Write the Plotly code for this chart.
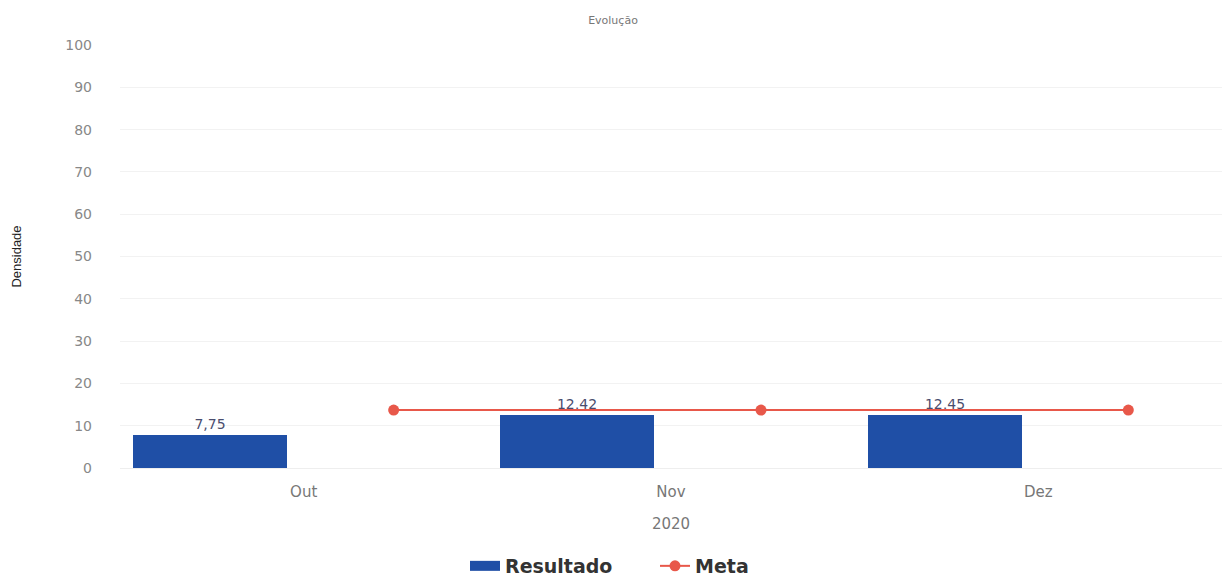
import plotly.graph_objects as go

categories = ["Out", "Nov", "Dez"]
resultado = [7.75, 12.42, 12.45]
meta = [13.7, 13.7, 13.7]
y_ticks = [0, 10, 20, 30, 40, 50, 60, 70, 80, 90, 100]

idx = list(range(len(categories)))
bar_x = [i - 0.255 for i in idx]
meta_x = [i + 0.245 for i in idx]

BAR_COLOR = "#1f4fa6"
META_COLOR = "#e8584a"

fig = go.Figure()
fig.add_trace(go.Bar(
    x=bar_x, y=resultado, name="Resultado", width=0.42, showlegend=False,
    legendgroup="res",
    marker=dict(color=BAR_COLOR, line=dict(width=0)),
    text=[f"{v:.2f}".replace(".", ",") for v in resultado],
    textposition="outside", cliponaxis=False,
    textfont=dict(family="DejaVu Sans", size=14, color="#4a4d6e"),
))
# legend entry for the bars (wide rectangle swatch)
fig.add_trace(go.Scatter(
    x=[None], y=[None], name="Resultado", mode="lines", legendgroup="res",
    line=dict(color=BAR_COLOR, width=16),
))
fig.add_trace(go.Scatter(
    x=meta_x, y=meta, name="Meta", mode="lines+markers",
    line=dict(color=META_COLOR, width=2),
    marker=dict(color=META_COLOR, size=11),
))

fig.update_layout(
    width=1226, height=578,
    margin=dict(l=120, r=4, t=45, b=110, autoexpand=False),
    paper_bgcolor="white", plot_bgcolor="white",
    separators=",.",
    title=dict(text="Evolução", x=0.5, xanchor="center", y=1 - 20 / 578, yanchor="middle",
               font=dict(family="DejaVu Sans", size=11, color="#777")),
    showlegend=True,
    legend=dict(orientation="h", x=465 / 1226, xanchor="left", xref="container",
                yref="container", y=12 / 578, yanchor="middle",
                font=dict(family="DejaVu Sans", size=19, color="#333", weight="bold"),
                itemwidth=30, entrywidth=145),
    bargap=0,
)
fig.update_xaxes(
    range=[-0.5, 2.5], tickvals=idx, ticktext=categories, automargin=False,
    showgrid=False, zeroline=False, showline=True, linecolor="#eeeeee",
    tickfont=dict(family="DejaVu Sans", size=15, color="#777"),
    ticklabelstandoff=10,
    title=dict(text="2020", font=dict(family="DejaVu Sans", size=15, color="#777"), standoff=18),
)
fig.update_yaxes(
    range=[0, 100], tickvals=y_ticks, automargin=False,
    showgrid=True, gridcolor="#f2f2f2", zeroline=False,
    tickfont=dict(family="DejaVu Sans", size=14, color="#888"),
    ticklabelstandoff=27,
    title=dict(text="Densidade", font=dict(family="Liberation Sans Narrow, Liberation Sans", size=13, color="#222"), standoff=40),
)

fig.write_html("out.html", config={"displayModeBar": False},
               post_script="document.body.style.margin='0';")
